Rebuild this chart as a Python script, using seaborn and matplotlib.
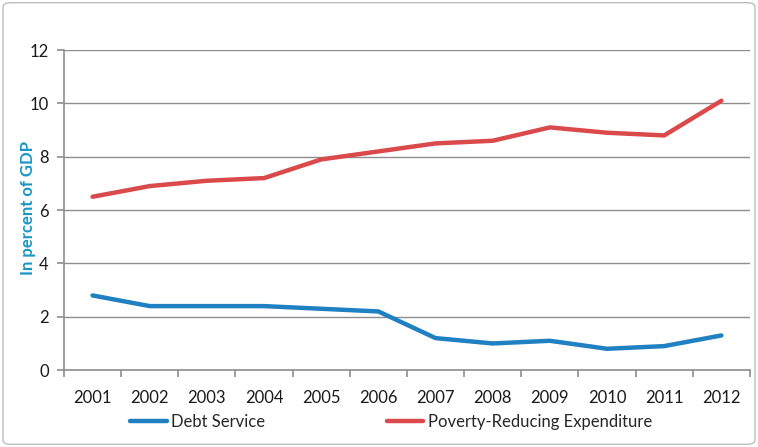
import matplotlib
matplotlib.use("Agg")
import matplotlib.pyplot as plt
import seaborn as sns
import pandas as pd
from matplotlib.patches import FancyBboxPatch
from matplotlib.ticker import FixedLocator

years = ["2001", "2002", "2003", "2004", "2005", "2006", "2007", "2008", "2009", "2010", "2011", "2012"]
debt_service = [2.8, 2.4, 2.4, 2.4, 2.3, 2.2, 1.2, 1.0, 1.1, 0.8, 0.9, 1.3]
poverty_exp = [6.5, 6.9, 7.1, 7.2, 7.9, 8.2, 8.5, 8.6, 9.1, 8.9, 8.8, 10.1]
series_names = ["Debt Service", "Poverty-Reducing Expenditure"]

df = pd.DataFrame({
    "Year": years * 2,
    "Value": debt_service + poverty_exp,
    "Series": [series_names[0]] * len(years) + [series_names[1]] * len(years),
})

sns.set_theme(style="white")
plt.rcParams["font.family"] = ["Lato", "DejaVu Sans"]

fig = plt.figure(figsize=(7.58, 4.47), dpi=100)
ax = fig.add_axes([0.0844, 0.172, 0.905, 0.716])

palette = {series_names[0]: "#1f80c2", series_names[1]: "#da4a4b"}
sns.lineplot(data=df, x="Year", y="Value", hue="Series", palette=palette,
             linewidth=3.2, sort=False, ax=ax, legend=True)

ax.set_xlim(-0.5, 11.5)
ax.set_ylim(0, 12)
ax.set_yticks(range(0, 13, 2))
ax.yaxis.grid(True, color="#8e8e8e", linewidth=1.0)
ax.set_axisbelow(True)
for s in ["top", "right"]:
    ax.spines[s].set_visible(False)
for s in ["left", "bottom"]:
    ax.spines[s].set_color("#8e8e8e")
    ax.spines[s].set_linewidth(1.2)

ax.set_xticks(range(len(years)))
ax.set_xticklabels(years)
ax.xaxis.set_minor_locator(FixedLocator([i - 0.5 for i in range(len(years) + 1)]))
ax.tick_params(axis="x", which="major", length=0, pad=14, labelsize=12, labelcolor="#1a1a1a")
ax.tick_params(axis="x", which="minor", bottom=True, length=5, width=1.2, color="#8e8e8e")
ax.tick_params(axis="y", which="major", left=True, length=5, width=1.2, color="#8e8e8e",
               labelsize=12, labelcolor="#1a1a1a", pad=6)

ax.set_xlabel("")
ax.set_ylabel("In percent of GDP", fontsize=12, fontweight="bold", color="#1996c3")
ax.yaxis.set_label_coords(28 / 758, (447 - 208) / 447, transform=fig.transFigure)
ax.yaxis.label.set_verticalalignment("center")

handles, labels = ax.get_legend_handles_labels()
ax.legend(handles, labels, loc="center", bbox_to_anchor=(391 / 758, (447 - 422) / 447),
          bbox_transform=fig.transFigure, ncol=2, frameon=False, fontsize=12,
          handlelength=2.2, columnspacing=7.3, handletextpad=0.25)

border = FancyBboxPatch((0.004, 0.006), 0.992, 0.988, boxstyle="round,pad=0,rounding_size=0.01",
                        transform=fig.transFigure, fill=False, edgecolor="#bdbdbd", linewidth=1.0)
fig.patches.append(border)

fig.savefig("out.png", dpi=100)
